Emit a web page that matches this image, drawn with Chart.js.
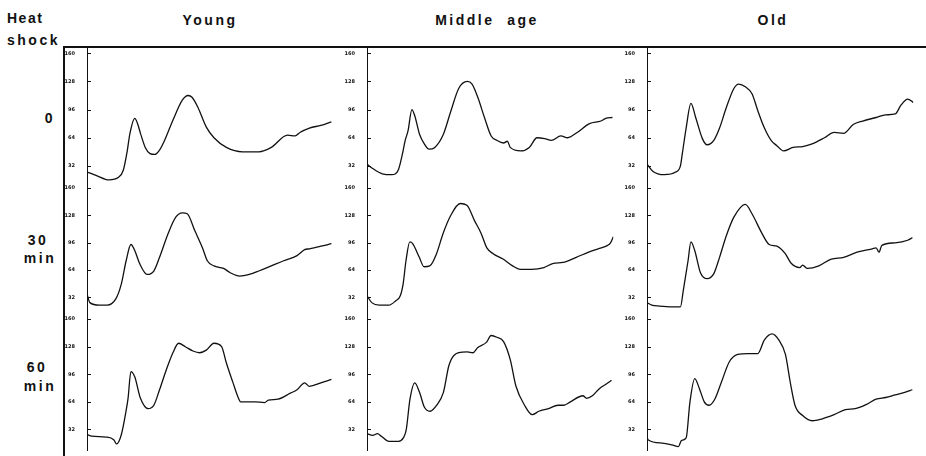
<!DOCTYPE html>
<html lang="en">
  <head>
    <meta charset="UTF-8" />
    <title>Heat shock</title>
    <style>
      body {
        margin: 0;
        width: 926px;
        height: 456px;
        position: relative;
        overflow: hidden;
        background: #fff;
        font-family: "Liberation Sans", Arial, sans-serif;
      }
      .lbl {
        position: absolute;
        font-weight: bold;
        font-size: 14px;
        line-height: 14px;
        color: #111;
        white-space: nowrap;
        text-align: center;
        letter-spacing: 2.5px;
      }
      .frame-top {
        position: absolute;
        left: 63px;
        top: 46px;
        width: 863px;
        height: 2px;
        background: #111;
      }
      .frame-left {
        position: absolute;
        left: 63px;
        top: 46px;
        width: 2px;
        height: 410px;
        background: #111;
      }
      canvas {
        position: absolute;
      }
    </style>
  </head>
  <body>
    <div class="lbl" style="left: 7px; top: 11px; text-align: left; letter-spacing: 1.5px">Heat</div>
    <div class="lbl" style="left: 7px; top: 33px; text-align: left">shock</div>
    <div class="lbl" style="left: 158px; top: 13px; width: 104px">Young</div>
    <div class="lbl" style="left: 420px; top: 13px; width: 134px">Middle&nbsp; age</div>
    <div class="lbl" style="left: 721px; top: 13px; width: 104px">Old</div>
    <div class="lbl" style="left: 30px; top: 111px; width: 40px">0</div>
    <div class="lbl" style="left: 18px; top: 233px; width: 40px">30</div>
    <div class="lbl" style="left: 20px; top: 251px; width: 40px">min</div>
    <div class="lbl" style="left: 17px; top: 360px; width: 40px">60</div>
    <div class="lbl" style="left: 20px; top: 379px; width: 40px">min</div>
    <div class="frame-top"></div>
    <div class="frame-left"></div>

    <script src="https://cdn.jsdelivr.net/npm/chart.js@4.4.1/dist/chart.umd.min.js"></script>
    <script>
      // y axis tick values
      const yTicks = [32, 64, 96, 128, 160];

      // traces: [time, value]
      const young0 = [[0,25],[10,21],[23,16],[33,19],[38,27],[42,48],[45,69],[50,86],[53,80],[56,69],[61,53],[66,46],[71,45],[76,50],[80,58],[90,84],[100,107],[106,112],[110,110],[116,99],[125,76],[133,64],[146,53],[163,48],[180,48],[193,53],[210,67],[218,66],[223,70],[233,75],[245,78],[256,82]];
      const middle0 = [[0,34],[6,29],[16,23],[26,22],[33,28],[37,45],[40,61],[43,72],[47,96],[50,89],[55,68],[60,57],[65,51],[71,53],[80,68],[88,95],[96,120],[105,128],[110,125],[116,110],[123,87],[130,66],[136,61],[143,58],[147,60],[150,53],[161,49],[170,53],[178,64],[186,63],[193,61],[203,66],[210,64],[220,70],[233,80],[245,83],[250,86],[257,87]];
      const old0 = [[0,34],[6,26],[18,22],[30,25],[35,32],[37,46],[41,75],[46,103],[51,87],[58,63],[63,56],[70,61],[76,75],[83,98],[91,120],[96,125],[103,122],[110,114],[116,95],[123,75],[130,61],[136,55],[143,49],[153,53],[163,54],[173,57],[186,64],[196,70],[206,69],[216,79],[226,83],[240,87],[250,90],[260,91],[266,101],[273,108],[279,104]];

      const young30 = [[0,36],[3,26],[13,23],[21,23],[30,30],[36,48],[41,75],[46,94],[50,87],[55,72],[63,59],[70,63],[76,79],[85,107],[93,126],[100,131],[105,130],[113,110],[121,90],[126,75],[133,69],[143,66],[150,61],[160,57],[170,59],[180,63],[193,69],[206,75],[220,81],[228,88],[233,89],[245,92],[256,95]];
      const middle30 = [[0,34],[5,26],[13,23],[23,23],[30,28],[35,34],[38,48],[41,75],[45,97],[48,95],[55,79],[60,68],[66,69],[73,83],[80,107],[88,128],[98,142],[105,140],[113,122],[120,107],[126,90],[133,83],[143,77],[153,69],[161,65],[173,65],[186,67],[196,72],[206,73],[220,79],[233,85],[243,89],[253,93],[256,96],[259,103]];
      const old30 = [[0,26],[5,23],[13,22],[35,21],[38,40],[43,75],[46,97],[50,87],[56,61],[63,54],[70,60],[76,79],[83,104],[91,126],[103,141],[110,130],[120,108],[128,94],[136,92],[145,83],[151,72],[160,67],[163,70],[168,66],[180,69],[193,77],[206,79],[220,85],[236,89],[240,90],[243,85],[246,93],[260,96],[273,99],[278,102]];

      const young60 = [[0,26],[5,24],[20,23],[28,20],[31,15],[36,26],[41,54],[43,68],[46,99],[50,93],[56,68],[64,56],[70,60],[76,78],[83,101],[90,121],[96,132],[103,128],[111,123],[118,121],[125,124],[133,132],[141,128],[146,109],[153,86],[158,70],[161,64],[176,64],[186,63],[190,66],[200,67],[213,74],[220,78],[228,86],[233,82],[245,86],[256,90]];
      const middle60 = [[0,27],[6,25],[11,27],[15,24],[23,18],[33,18],[38,22],[41,31],[45,67],[50,86],[55,75],[60,58],[66,53],[73,60],[80,75],[86,107],[96,121],[105,122],[111,121],[116,127],[125,133],[130,141],[136,139],[143,134],[150,113],[156,82],[165,60],[173,49],[180,53],[190,56],[200,60],[206,60],[213,64],[226,71],[230,68],[236,71],[243,79],[251,85],[256,89]];
      const old60 = [[0,24],[1,20],[16,16],[26,14],[33,12],[36,19],[41,22],[45,64],[50,91],[55,79],[60,64],[65,60],[71,67],[78,87],[86,110],[95,119],[106,120],[116,120],[123,136],[131,143],[138,136],[145,119],[150,87],[155,60],[163,48],[173,42],[183,44],[196,49],[208,55],[218,56],[230,61],[240,67],[250,69],[260,72],[270,75],[278,78]];

      const panels = [
        [young0, middle0, old0],
        [young30, middle30, old30],
        [young60, middle60, old60],
      ];

      // page layout of the grid (px)
      const columns = [
        { axisX: 87, width: 257 },
        { axisX: 367, width: 259 },
        { axisX: 647, width: 279 },
      ];
      const rows = [
        { top: 48, height: 139 },
        { top: 183, height: 135 },
        { top: 314, height: 136 },
      ];
      const LABEL_W = 26;

      // short tick marks pointing into the plot
      const innerTicks = {
        id: "innerTicks",
        afterDatasetsDraw(chart) {
          const y = chart.scales.y;
          const left = chart.chartArea.left;
          const ctx = chart.ctx;
          ctx.save();
          ctx.strokeStyle = "#111";
          ctx.lineWidth = 1;
          y.ticks.forEach((t) => {
            const py = Math.round(y.getPixelForValue(t.value)) + 0.5;
            ctx.beginPath();
            ctx.moveTo(left, py);
            ctx.lineTo(left + 4, py);
            ctx.stroke();
          });
          ctx.restore();
        },
      };

      function makePanel(data, col, row) {
        const canvas = document.createElement("canvas");
        canvas.width = LABEL_W + col.width;
        canvas.height = row.height + 20;
        document.body.appendChild(canvas);

        const chart = new Chart(canvas, {
          type: "line",
          data: {
            datasets: [
              {
                data: data.map((p) => ({ x: p[0], y: p[1] })),
                borderColor: "#111",
                borderWidth: 1.3,
                pointRadius: 0,
                tension: 0.3,
                cubicInterpolationMode: "monotone",
              },
            ],
          },
          options: {
            responsive: false,
            animation: false,
            events: [],
            layout: { padding: 0 },
            plugins: {
              legend: { display: false },
              tooltip: { enabled: false },
            },
            scales: {
              x: { type: "linear", display: false, min: 0, max: col.width },
              y: {
                min: 8,
                max: 166,
                afterBuildTicks: (s) => {
                  s.ticks = yTicks.map((v) => ({ value: v }));
                },
                afterFit: (s) => {
                  s.width = LABEL_W;
                },
                grid: { display: false },
                border: { display: true, color: "#111", width: 1, dash: [1, 1.5] },
                ticks: {
                  padding: 4,
                  color: "#111",
                  font: { size: 5, weight: "bold", family: "DejaVu Sans" },
                },
              },
            },
          },
          plugins: [innerTicks],
        });

        // fit the plot area to the grid cell
        const ca = chart.chartArea;
        const extra = canvas.height - (ca.bottom - ca.top);
        chart.resize(LABEL_W + col.width, row.height + extra);
        const ca2 = chart.chartArea;
        canvas.style.left = col.axisX - ca2.left + "px";
        canvas.style.top = row.top - ca2.top + "px";
      }

      panels.forEach((r, i) => {
        r.forEach((d, j) => {
          makePanel(d, columns[j], rows[i]);
        });
      });
    </script>
  </body>
</html>
